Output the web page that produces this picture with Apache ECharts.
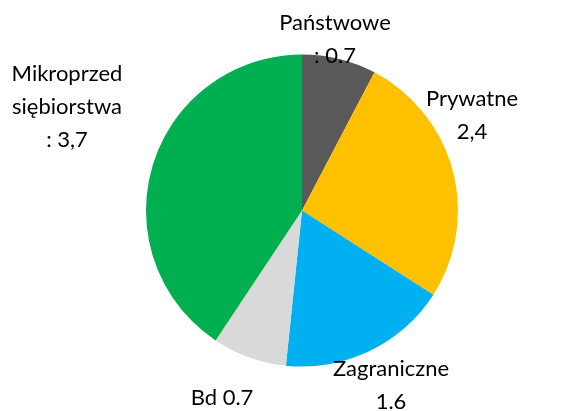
<!DOCTYPE html>
<html>
<head>
<meta charset="utf-8">
<script src="https://cdn.jsdelivr.net/npm/echarts@6/dist/echarts.min.js"></script>
<style>
  html, body { margin: 0; padding: 0; background: #fff; }
  #chart { width: 569px; height: 411px; }
</style>
</head>
<body>
<div id="chart"></div>
<script>
var names = ["Państwowe", "Prywatne", "Zagraniczne", "Bd", "Mikroprzedsiębiorstwa"];
var values = [0.7, 2.4, 1.6, 0.7, 3.7];
var labelTexts = ["Państwowe\n: 0.7", "Prywatne\n2,4", "Zagraniczne\n1.6", "Bd 0.7", "Mikroprzed\nsiębiorstwa\n: 3,7"];
var colors = ["#595959", "#FFC000", "#00B0F0", "#D9D9D9", "#00B050"];

// where each label sits (center of the text block)
var labelPos = [[335, 39], [472, 115], [391, 385], [222, 398], [67, 107]];

var myChart = echarts.init(document.getElementById("chart"));
var pieData = [];
for (var i = 0; i < names.length; i++) {
    pieData.push({
        name: names[i],
        value: values[i],
        itemStyle: { color: colors[i] }
    });
}

myChart.setOption({
    animation: false,
    series: [{
        type: "pie",
        center: [302, 210.5],
        radius: 156,
        startAngle: 90,
        clockwise: true,
        data: pieData,
        itemStyle: { borderWidth: 0 },
        label: {
            show: true,
            position: "outside",
            formatter: function (p) { return labelTexts[p.dataIndex]; },
            fontFamily: "Lato",
            fontSize: 22,
            lineHeight: 33,
            color: "#000",
            align: "center",
            overflow: "none"
        },
        labelLine: { show: false },
        labelLayout: function (p) {
            var pos = labelPos[p.dataIndex];
            return { x: pos[0], y: pos[1], align: "center", verticalAlign: "middle" };
        }
    }]
});
</script>
</body>
</html>
